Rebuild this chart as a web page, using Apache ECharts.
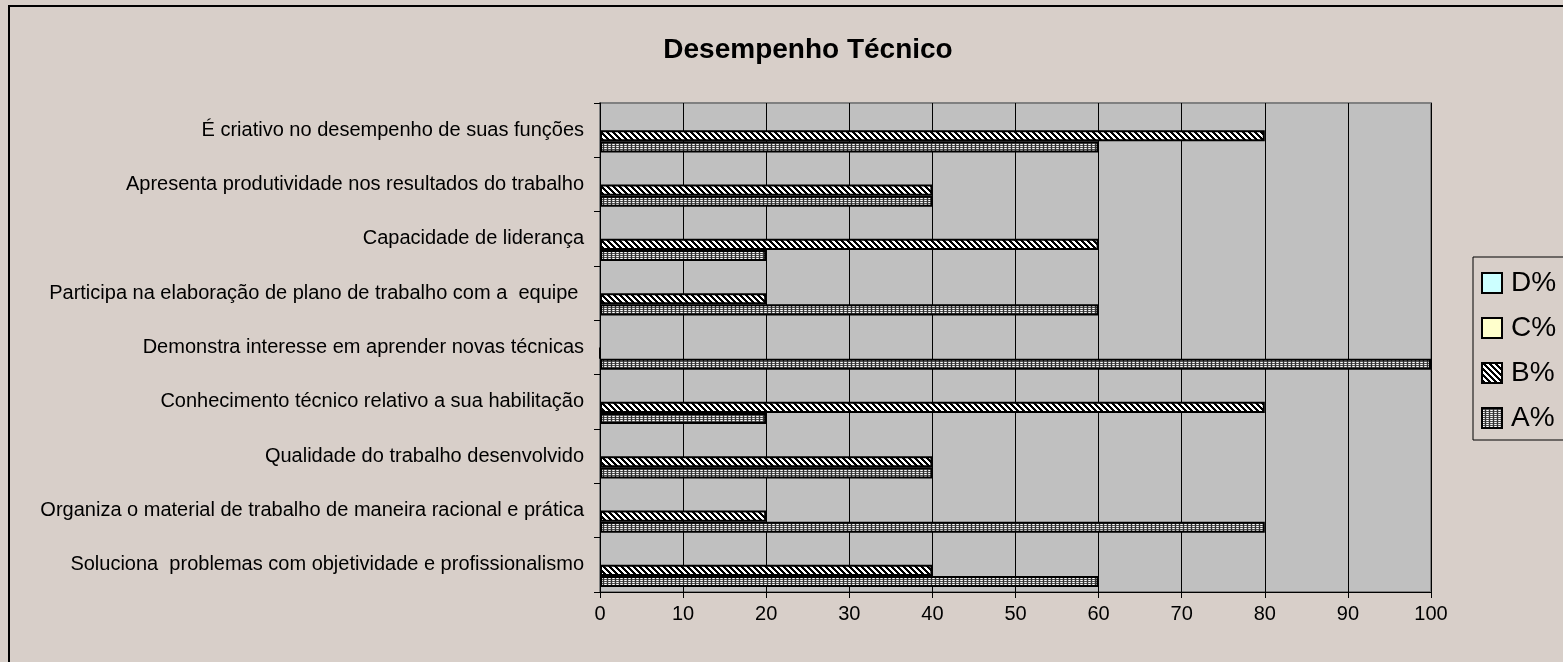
<!DOCTYPE html>
<html>
<head>
<meta charset="utf-8">
<script src="https://cdn.jsdelivr.net/npm/echarts@6/dist/echarts.min.js"></script>
<style>
html,body{margin:0;padding:0;background:#d8cfc9;}
#c{width:1563px;height:662px;}
</style>
</head>
<body>
<div id="c"></div>
<script>
// Categories, bottom to top
const categories = [
  'Soluciona  problemas com objetividade e profissionalismo',
  'Organiza o material de trabalho de maneira racional e prática',
  'Qualidade do trabalho desenvolvido',
  'Conhecimento técnico relativo a sua habilitação',
  'Demonstra interesse em aprender novas técnicas',
  'Participa na elaboração de plano de trabalho com a  equipe ',
  'Capacidade de liderança',
  'Apresenta produtividade nos resultados do trabalho',
  'É criativo no desempenho de suas funções'
];
const seriesA = [60, 80, 40, 20, 100, 60, 20, 40, 60];
const seriesB = [40, 20, 40, 80, 0, 20, 60, 40, 80];
const seriesC = [0, 0, 0, 0, 0, 0, 0, 0, 0];
const seriesD = [0, 0, 0, 0, 0, 0, 0, 0, 0];
const xTicks = [0, 10, 20, 30, 40, 50, 60, 70, 80, 90, 100];

function makePattern(w, h, fn) {
  const cv = document.createElement('canvas');
  cv.width = w; cv.height = h;
  const ctx = cv.getContext('2d');
  for (let y = 0; y < h; y++) for (let x = 0; x < w; x++) {
    ctx.fillStyle = fn(x, y);
    ctx.fillRect(x, y, 1, 1);
  }
  return {image: cv, repeat: 'repeat'};
}
const patB = makePattern(6, 6, (x, y) => (((x - y) % 6 + 6) % 6) < 3 ? '#000000' : '#ffffff');
const patA = makePattern(4, 4, (x, y) => {
  if (x === 3) return '#303030';
  if (x === 1) return (y % 2 === 0) ? '#ffffff' : '#505050';
  return ((x + y) % 2 === 0) ? '#d0d0d0' : '#505050';
});

const chart = echarts.init(document.getElementById('c'), null, {renderer: 'canvas'});
const font = '"Liberation Sans", Arial, sans-serif';
const barStyle = (c) => ({color: c, borderColor: '#000', borderWidth: 2});
chart.setOption({
  backgroundColor: '#d8cfc9',
  animation: false,
  title: {
    text: 'Desempenho Técnico',
    left: 803, top: 31, textAlign: 'center',
    textStyle: {fontFamily: font, fontWeight: 'bold', fontSize: 28, color: '#000'}
  },
  graphic: [{
    type: 'rect', silent: true,
    shape: {x: 9, y: 6, width: 1600, height: 700},
    style: {fill: 'none', stroke: '#000', lineWidth: 2}
  }],
  legend: {
    orient: 'vertical', left: 1473, top: 257, icon: 'rect',
    padding: [12, 30, 8, 8],
    borderColor: '#000', borderWidth: 1,
    itemWidth: 20, itemHeight: 20, itemGap: 17,
    textStyle: {fontFamily: font, fontSize: 28, color: '#000', padding: [0,0,0,4]},
    data: [
      {name: 'D%', itemStyle: {borderColor: '#000', borderWidth: 2}},
      {name: 'C%', itemStyle: {borderColor: '#000', borderWidth: 2}},
      {name: 'B%', itemStyle: {borderColor: '#000', borderWidth: 2}},
      {name: 'A%', itemStyle: {borderColor: '#000', borderWidth: 2}}
    ]
  },
  grid: {
    left: 600, right: 132, top: 103, bottom: 70,
    show: true, backgroundColor: '#c0c0c0', borderColor: '#808080', borderWidth: 2
  },
  xAxis: {
    type: 'value', min: 0, max: 100, interval: 10,
    axisLine: {show: true, lineStyle: {color: '#000', width: 1}},
    axisTick: {show: true, length: 6, lineStyle: {color: '#000'}},
    splitLine: {show: true, lineStyle: {color: '#000', width: 1}},
    axisLabel: {fontFamily: font, fontSize: 20, color: '#000', margin: 12,
      formatter: v => xTicks.includes(v) ? String(v) : ''}
  },
  yAxis: {
    type: 'category', data: categories,
    axisLine: {show: true, lineStyle: {color: '#000', width: 1}},
    axisTick: {show: true, length: 6, lineStyle: {color: '#000'}},
    axisLabel: {fontFamily: font, fontSize: 20, color: '#000', margin: 16}
  },
  series: [
    {name: 'D%', type: 'bar', data: seriesD, barGap: 0, barCategoryGap: '18%',
     itemStyle: {color: '#ccffff', borderWidth: 0}},
    {name: 'C%', type: 'bar', data: seriesC, barGap: 0, barCategoryGap: '18%',
     itemStyle: {color: '#ffffcc', borderWidth: 0}},
    {name: 'B%', type: 'bar', data: seriesB, barGap: 0, barCategoryGap: '18%',
     itemStyle: barStyle(patB)},
    {name: 'A%', type: 'bar', data: seriesA, barGap: 0, barCategoryGap: '18%',
     itemStyle: barStyle(patA)}
  ]
});
</script>
</body>
</html>
